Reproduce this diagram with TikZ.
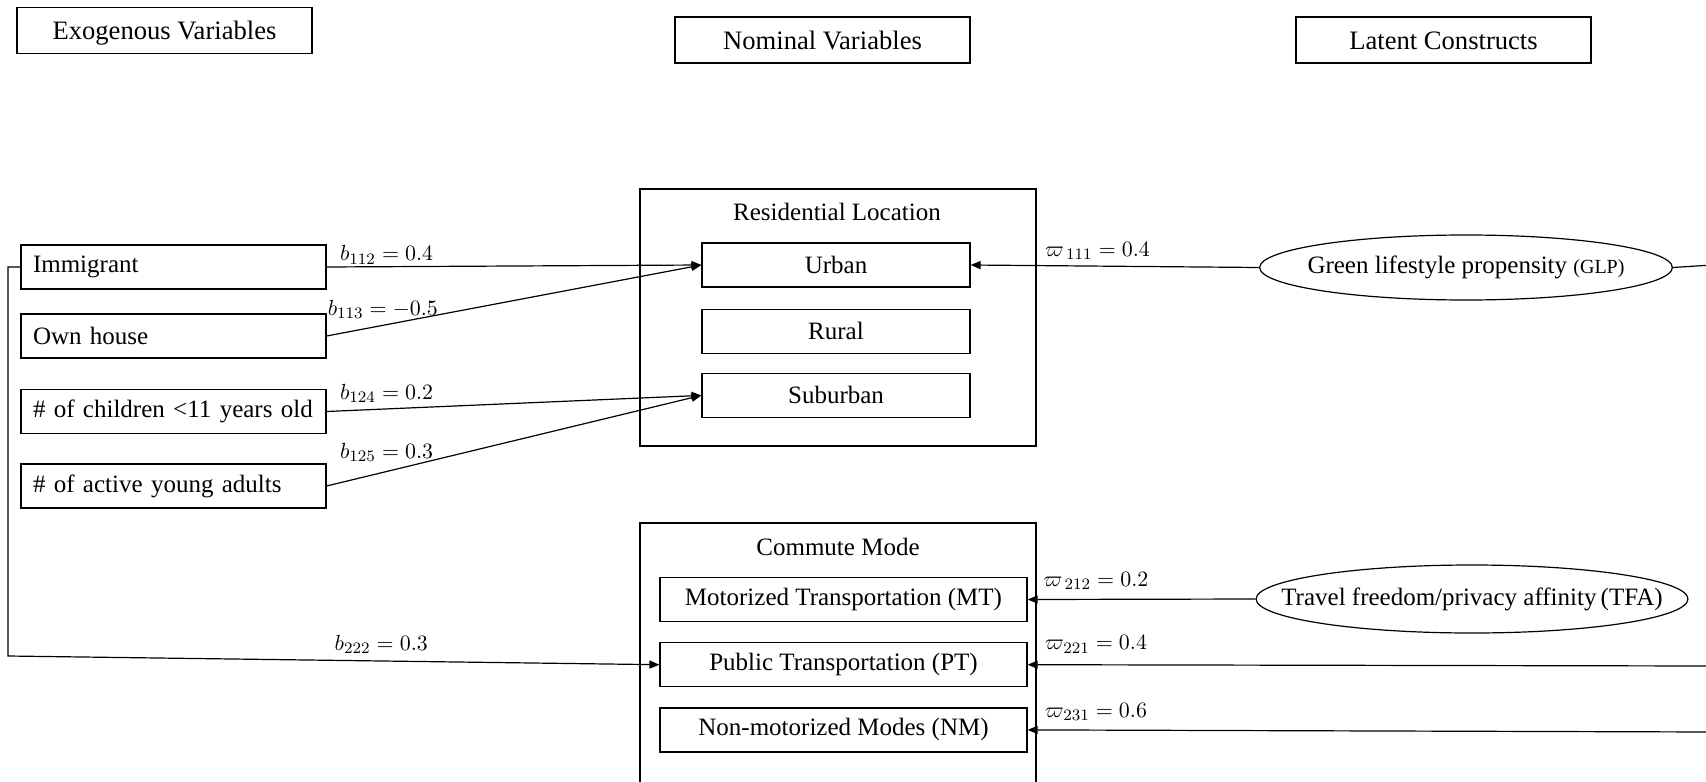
\documentclass[tikz,border=0pt]{standalone}
\usepackage{fontspec}
\setmainfont{Liberation Serif}
\usetikzlibrary{arrows.meta,positioning,shapes.geometric}

\newcommand{\boxfont}{\fontsize{12.5}{15}\selectfont}
\newcommand{\hdrfont}{\fontsize{13.3}{16}\selectfont}
\newcommand{\coeffont}{\fontsize{11}{13}\selectfont}

\tikzset{
	hdr/.style={draw, minimum width=147.5pt, minimum height=23pt, inner sep=0pt, text height=9.5pt, text depth=0pt, font=\hdrfont},
	exo/.style={draw, text width=140.5pt, align=left, inner xsep=6pt, inner ysep=0pt, minimum height=22pt, font=\boxfont},
	cat/.style={draw, minimum width=134pt, minimum height=22pt, inner sep=0pt, font=\boxfont},
	mode/.style={cat, minimum width=183.5pt},
	group/.style={draw, minimum width=198pt, inner sep=0pt},
	title/.style={inner sep=0pt, font=\boxfont},
	latent/.style={draw, ellipse, inner ysep=0pt, font=\boxfont},
	arr/.style={-{Triangle[length=5pt,width=4pt]}, line width=0.6pt},
	coef/.style={inner sep=1pt, font=\coeffont}
}

\begin{document}
\begin{tikzpicture}[x=0.5pt, y=-0.5pt, line width=0.6pt]
	\useasboundingbox (0,0) rectangle (1706,781);
	\clip (0,0) rectangle (1706,781);

	% column headings
	\node[hdr] (hexo) at (164.5,30.5) {Exogenous Variables};
	\node[hdr] (hnom) at (822.5,40) {Nominal Variables};
	\node[hdr] (hlat) at (1443.5,40) {Latent Constructs};

	% exogenous variables
	\node[exo] (immig) at (173.5,267) {Immigrant};
	\node[exo] (house) at (173.5,336) {Own house};
	\node[exo] (kids) at (173.5,411.5) {\# of children <11 years old};
	\node[exo] (young) at (173.5,486) {\# of active young adults};

	% residential location
	\node[group, minimum height=128.5pt] (resloc) at (838,317.5) {};
	\node[title] (restitle) at (837,212) {Residential Location};
	\node[cat] (urban) at (836,265) {Urban};
	\node[cat, below=10.5pt of urban] (rural) {Rural};
	\node[cat, below=9.5pt of rural] (suburb) {Suburban};

	% commute mode
	\node[group, minimum height=140pt] (commute) at (838,663) {};
	\node[title] (comtitle) at (838,547) {Commute Mode};
	\node[mode] (mt) at (843.5,599.5) {Motorized Transportation (MT)};
	\node[mode, below=10pt of mt] (pt) {Public Transportation (PT)};
	\node[mode, below=10pt of pt] (nm) {Non-motorized Modes (NM)};

	% latent constructs
	\node[latent, inner xsep=-6.3pt, minimum height=32.5pt] (glp) at (1466,267.5)
		{Green lifestyle propensity {\fontsize{10}{12}\selectfont(GLP)}};
	\node[latent, inner xsep=-19pt, minimum height=34pt] (tfa) at (1472,599)
		{Travel freedom/privacy affinity\,(TFA)};

	\coordinate (elbowtop) at (8,267);
	\coordinate (elbowbot) at (8,656);
	\coordinate (glpout) at (1712,265);
	\coordinate (ptin) at (1712,666);
	\coordinate (nmin) at (1712,732);

	% effects on residential location
	\draw[arr] (immig.east) -- node[coef, above, pos=.16] (b112) {$b_{112} = 0.4$} (urban.west);
	\draw[arr] (house.east) -- node[coef, above=2pt, pos=.15] (b113) {$b_{113} = -0.5$} (urban.west);
	\draw[arr] (kids.east) -- node[coef, above=2pt, pos=.16] (b124) {$b_{124} = 0.2$} (suburb.west);
	\draw[arr] (young.east) -- node[coef, above=3.5pt, pos=.16] (b125) {$b_{125} = 0.3$} (suburb.west);
	\draw[arr] (glp.west) -- node[coef, above=2pt, pos=.56] (w111) {$\varpi_{\,111} = 0.4$} (urban.east);
	\draw (glp.east) -- (glpout);

	% effects on commute mode
	\draw[arr] (immig.west) -- (elbowtop) -- (elbowbot)
		-- node[coef, above=2.5pt, pos=.573] (b222) {$b_{222} = 0.3$} (pt.west);
	\draw[arr] (tfa.west) -- node[coef, above=3.5pt, pos=.70] (w212) {$\varpi_{\,212} = 0.2$} (mt.east);
	\draw[arr] (ptin) -- node[coef, above=4.5pt, pos=.9] (w221) {$\varpi_{221} = 0.4$} (pt.east);
	\draw[arr] (nmin) -- node[coef, above=3.5pt, pos=.9] (w231) {$\varpi_{231} = 0.6$} (nm.east);
\end{tikzpicture}
\end{document}
